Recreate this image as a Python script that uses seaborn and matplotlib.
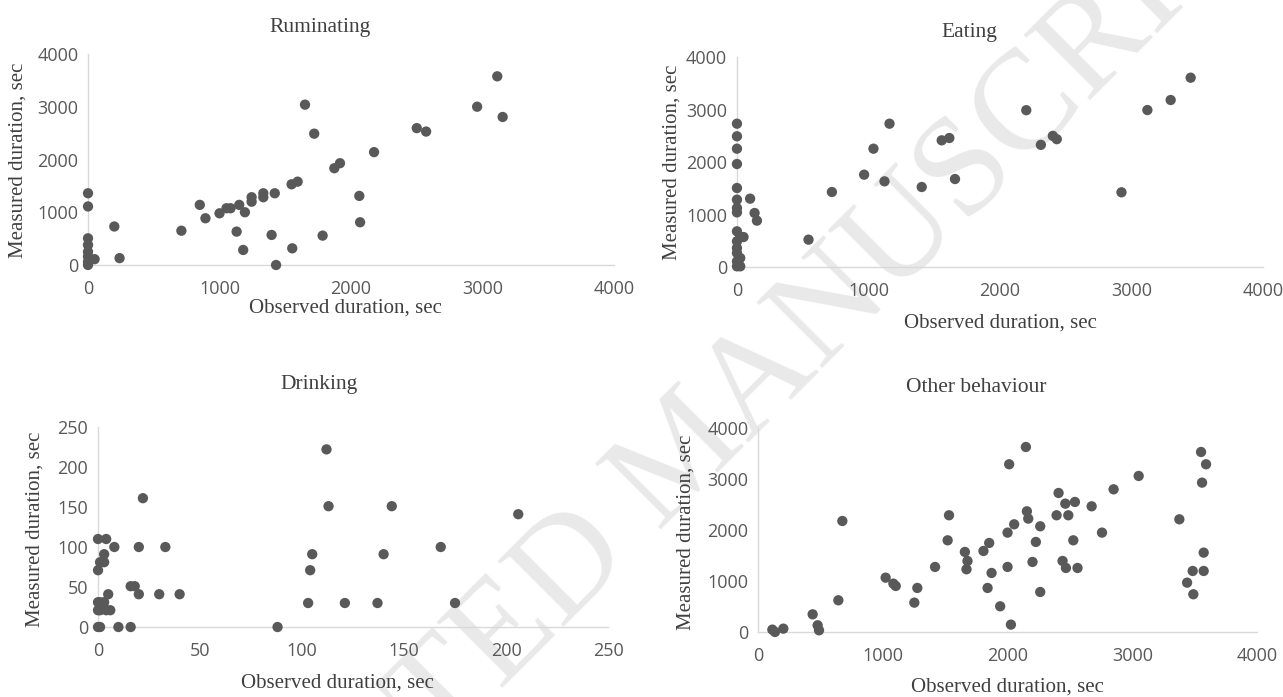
import matplotlib
matplotlib.use("Agg")
import matplotlib.pyplot as plt
import seaborn as sns
import pandas as pd

# ── data ─────────────────────────────────────────────────────────────────────
rum_obs  = [0, 0, 0, 0, 0, 0, 0, 0, 50, 200, 240, 710, 850, 893, 1000, 1053, 1084, 1150, 1193, 1130,
            1180, 1244, 1244, 1333, 1333, 1420, 1396, 1430, 1548, 1594, 1553, 1650, 1720, 1784, 1873,
            1916, 2063, 2069, 2175, 2500, 2571, 2959, 3112, 3153]
rum_meas = [1360, 1110, 506, 380, 250, 160, 60, 0, 110, 730, 130, 650, 1140, 886, 980, 1076, 1076, 1140,
            1000, 633, 285, 1285, 1200, 1360, 1285, 1360, 570, 0, 1530, 1580, 316, 3040, 2490, 557,
            1835, 1930, 1310, 810, 2140, 2595, 2530, 3001, 3577, 2806]

eat_obs  = [0, 0, 0, 0, 0, 0, 0, 0, 0, 25, 50, 0, 0, 0, 25, 0, 25, 0, 100, 134, 152, 544, 722, 967,
            1038, 1122, 1160, 1405, 1557, 1615, 1658, 2200, 2311, 2402, 2432, 2924, 3121, 3298, 3450]
eat_meas = [2730, 2490, 2254, 1962, 1505, 1283, 1124, 1041, 680, 571, 571, 490, 362, 267, 171, 108, 13,
            13, 1302, 1029, 883, 521, 1429, 1759, 2254, 1632, 2730, 1524, 2413, 2457, 1676, 2987,
            2327, 2498, 2435, 1423, 2990, 3181, 3606]

dr_obs  = [0, 4, 0, 3, 1, 3, 8, 0, 0, 1, 3, 1, 4, 6, 5, 0, 1, 10, 16, 16, 18, 20, 22, 20, 30, 33, 40,
           88, 103, 104, 105, 112, 113, 121, 137, 140, 144, 168, 175, 206]
dr_meas = [110, 110, 71, 91, 81, 81, 100, 31, 21, 31, 31, 21, 21, 21, 41, 0, 0, 0, 0, 51, 51, 100, 161,
           41, 41, 100, 41, 0, 30, 71, 91, 222, 151, 30, 30, 91, 151, 100, 30, 141]

oth_obs  = [115, 136, 203, 438, 478, 489, 644, 676, 1023, 1085, 1104, 1253, 1277, 1419, 1531, 1520,
            1658, 1679, 1671, 1807, 1853, 1872, 1840, 1941, 2027, 2000, 2053, 2000, 2013, 2147, 2155,
            2166, 2200, 2227, 2262, 2262, 2409, 2393, 2463, 2487, 2540, 2441, 2468, 2527, 2561, 2674,
            2757, 2850, 3051, 3377, 3439, 3484, 3489, 3551, 3591, 3559, 3572, 3572]
oth_meas = [46, 0, 65, 346, 131, 33, 621, 2176, 1065, 948, 902, 575, 863, 1275, 2288, 1797, 1569, 1392,
            1229, 1588, 1745, 1157, 863, 503, 144, 1948, 2111, 1275, 3288, 3627, 2366, 2222, 1373,
            1765, 2072, 784, 2725, 2288, 2516, 2288, 2549, 1392, 1255, 1797, 1255, 2464, 1948, 2797,
            3059, 2209, 967, 1196, 739, 3529, 3288, 2928, 1556, 1196]

titles = ["Ruminating", "Eating", "Drinking", "Other behaviour"]
big_ticks   = [0, 1000, 2000, 3000, 4000]
small_ticks = [0, 50, 100, 150, 200, 250]

# ── style ────────────────────────────────────────────────────────────────────
sns.set_style("white")
plt.rcParams['font.family'] = ['Open Sans', 'DejaVu Sans']

DOT   = "#595959"
TEXT  = "#595959"
LABEL = "#404040"
AXIS  = "#d9d9d9"
SERIF = ['Liberation Serif', 'DejaVu Serif']

fig = plt.figure(figsize=(12.83, 6.97), dpi=100)

# panel boxes in figure fractions: left, bottom, width, height
boxes = [
    [0.0686, 0.6198, 0.4100, 0.3027],
    [0.5744, 0.6169, 0.4100, 0.3013],
    [0.0764, 0.1004, 0.3975, 0.2870],
    [0.5908, 0.0933, 0.3890, 0.2927],
]
series = [(rum_obs, rum_meas), (eat_obs, eat_meas), (dr_obs, dr_meas), (oth_obs, oth_meas)]
title_pos  = [(0.441, 1.128), (0.441, 1.119), (0.434, 1.21), (0.437, 1.196)]
xlabel_pos = [(0.489, -0.204), (0.50, -0.267), (0.47, -0.28), (0.499, -0.27)]
ylabel_pos = [(-0.133, 0.498), (-0.124, 0.50), (-0.124, 0.49), (-0.144, 0.488)]

for i, (box, (obs, meas)) in enumerate(zip(boxes, series)):
    ax = fig.add_axes(box)
    ax.set_facecolor("none")
    df = pd.DataFrame({"obs": obs, "meas": meas})
    sns.scatterplot(data=df, x="obs", y="meas", ax=ax, color=DOT, s=55,
                    edgecolor="none", linewidth=0, zorder=3, clip_on=False)

    ticks = small_ticks if i == 2 else big_ticks
    ax.set_xlim(ticks[0], ticks[-1])
    ax.set_ylim(ticks[0], ticks[-1])
    ax.set_xticks(ticks)
    ax.set_yticks(ticks)

    sns.despine(ax=ax)
    for side in ["left", "bottom"]:
        ax.spines[side].set_color(AXIS)
        ax.spines[side].set_linewidth(1.0)
    ax.tick_params(axis="x", direction="out", length=4, width=1, color=AXIS,
                   pad=7, labelsize=13, labelcolor=TEXT)
    ax.tick_params(axis="y", direction="out", length=4, width=1, color=AXIS,
                   pad=3, labelsize=13, labelcolor=TEXT)

    ax.set_xlabel("Observed duration, sec", fontsize=15, color=LABEL, family=SERIF)
    ax.set_ylabel("Measured duration, sec", fontsize=15, color=LABEL, family=SERIF)
    ax.xaxis.set_label_coords(*xlabel_pos[i])
    ax.yaxis.set_label_coords(*ylabel_pos[i])
    ax.xaxis.label.set_va("center")
    ax.yaxis.label.set_va("center")

    tx, ty = title_pos[i]
    ax.text(tx, ty, titles[i], transform=ax.transAxes, ha="center", va="center",
            fontsize=15.5, color=LABEL, family=SERIF)

# faint diagonal watermark behind the panels (runs off the canvas, as in the source)
fig.text(0.535, 0.345, "ACCEPTED MANUSCRIPT", rotation=45, ha="center", va="center",
         fontsize=102, color="#e9e9e9", family=SERIF, zorder=-1)

plt.savefig("out.png", dpi=100)
plt.close()
